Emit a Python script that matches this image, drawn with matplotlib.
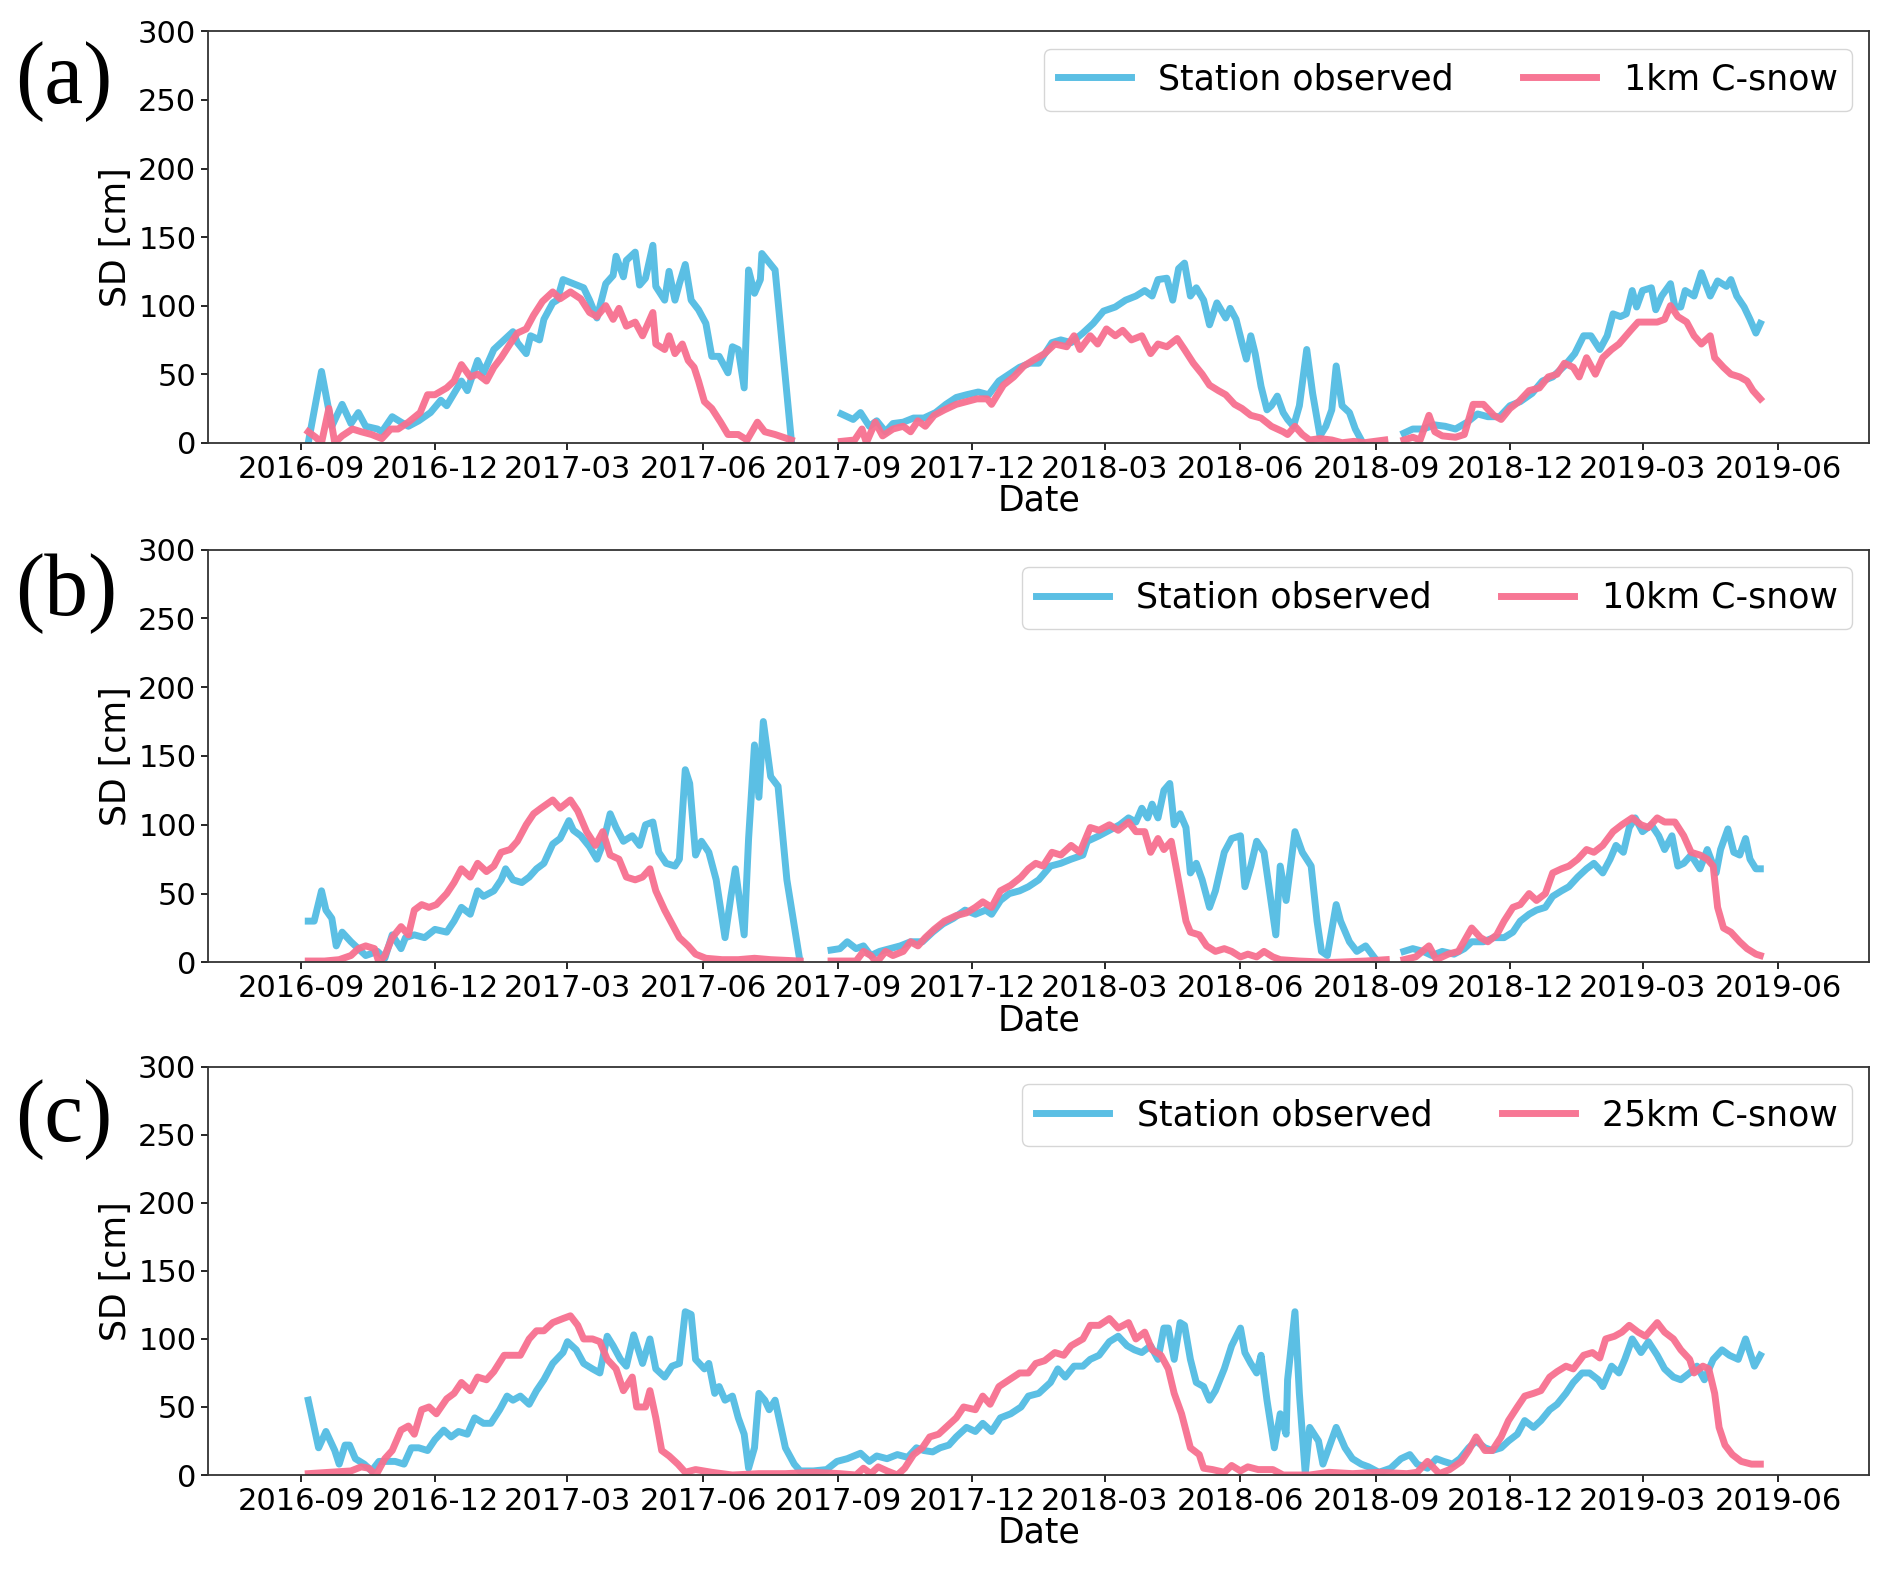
import numpy as np
import pandas as pd
import matplotlib
matplotlib.use("Agg")
import matplotlib.pyplot as plt
import matplotlib.dates as mdates

nan = np.nan
base = pd.Timestamp("2016-09-01")  # days below are counted from this date

# ---- panel (a): station vs 1km C-snow ----
a_obs_day = [5, 14, 21, 28, 34, 39, 44, 52, 55, 62, 68, 73, 80, 88, 95, 99, 109, 113, 120, 124,
             131, 138, 144, 147, 153, 156, 162, 165, 171, 174, 178, 185, 192, 196, 201, 207, 212, 214, 219, 221,
             227, 230, 234, 239, 241, 247, 250, 254, 257, 261, 265, 270, 275, 279, 284, 290, 293, 297, 301, 304,
             308, 312, 313, 319, 322, 333, 350,
             367, 375, 380, 386, 391, 397, 402, 409, 416, 423, 431, 438, 445, 452, 460, 467, 474, 481, 488, 495,
             501, 510, 516, 523, 531, 538, 545, 553, 560, 567, 573, 578, 582, 588, 592, 596, 600, 604, 608, 613,
             617, 622, 628, 631, 635, 639, 642, 645, 648, 652, 656, 659, 663, 667, 670, 674, 678, 683, 687, 692,
             696, 700, 703, 707, 712, 716, 720, 735,
             749, 755, 762, 770, 777, 784, 792, 799, 806, 814, 821, 828, 836, 843, 850, 858, 865, 871, 876, 882,
             887, 891, 896, 900, 904, 907, 911, 917, 920, 924, 930, 933, 937, 940, 946, 951, 957, 962, 968, 971,
             975, 980, 984, 988, 991]
a_obs_sd = [0, 52, 12, 28, 14, 22, 12, 10, 8, 19, 15, 12, 16, 22, 31, 27, 45, 38, 60, 51,
            68, 75, 81, 73, 65, 78, 75, 90, 102, 104, 119, 116, 113, 104, 91, 116, 122, 136, 121, 133,
            139, 115, 120, 144, 114, 104, 125, 104, 116, 130, 104, 97, 87, 63, 63, 51, 70, 68, 40, 126,
            109, 119, 138, 130, 126, 2, nan,
            21, 17, 22, 12, 16, 8, 14, 15, 18, 18, 22, 28, 33, 35, 37, 35, 45, 50, 55, 58,
            58, 73, 75, 73, 80, 87, 96, 99, 104, 107, 111, 107, 119, 120, 104, 127, 131, 107, 113, 104,
            86, 102, 91, 98, 90, 73, 61, 78, 65, 41, 24, 27, 34, 22, 17, 12, 27, 68, 36, 5,
            12, 24, 56, 27, 22, 10, 2, nan,
            7, 10, 10, 13, 12, 10, 15, 21, 19, 19, 27, 30, 36, 45, 48, 56, 65, 78, 78, 68,
            78, 94, 92, 94, 111, 99, 111, 113, 97, 107, 116, 99, 99, 111, 107, 124, 107, 118, 114, 119,
            107, 99, 90, 80, 87]

a_mod_day = [5, 10, 14, 19, 23, 28, 35, 41, 48, 55, 61, 66, 73, 81, 86, 91, 99, 104, 109, 115,
             120, 126, 131, 136, 142, 147, 153, 158, 164, 171, 176, 183, 190, 196, 201, 207, 212, 216, 221, 227,
             232, 239, 241, 247, 250, 254, 259, 263, 267, 270, 274, 279, 285, 290, 297, 303, 310, 315, 322, 333, 350,
             367, 376, 381, 384, 390, 395, 402, 409, 414, 419, 424, 430, 437, 445, 452, 459, 466, 469, 477, 484,
             491, 497, 505, 512, 520, 525, 529, 536, 541, 547, 553, 558, 564, 571, 577, 582, 588, 595, 600, 606,
             612, 617, 623, 628, 634, 639, 645, 652, 659, 667, 670, 675, 680, 685, 692, 700, 707, 715, 722, 729,
             736, 742,
             749, 755, 760, 766, 770, 775, 784, 790, 796, 803, 810, 815, 821, 827, 834, 841, 847, 853, 858, 864,
             868, 873, 879, 884, 890, 895, 903, 908, 913, 921, 926, 930, 935, 941, 946, 951, 957, 960, 966, 971,
             977, 982, 986, 991]
a_mod_sd = [8, 4, 0, 25, 0, 5, 10, 8, 6, 3, 10, 10, 15, 22, 35, 35, 40, 45, 57, 48,
            50, 45, 55, 62, 72, 80, 83, 93, 103, 110, 105, 110, 105, 95, 92, 100, 90, 98, 85, 88,
            78, 95, 72, 68, 78, 65, 72, 60, 55, 45, 30, 25, 15, 6, 6, 2, 15, 8, 6, 2, nan,
            1, 2, 10, 0, 15, 5, 10, 12, 8, 16, 12, 20, 24, 28, 30, 32, 32, 28, 42, 48,
            56, 60, 65, 72, 70, 78, 68, 78, 72, 83, 78, 82, 75, 78, 65, 72, 70, 76, 68, 58,
            50, 42, 38, 35, 28, 25, 20, 18, 12, 8, 6, 12, 6, 2, 3, 2, 0, 1, 0, 1,
            2, nan,
            2, 4, 2, 20, 8, 5, 4, 6, 28, 28, 20, 17, 25, 30, 38, 40, 48, 50, 58, 55,
            48, 62, 50, 62, 68, 72, 82, 88, 88, 88, 90, 100, 92, 88, 78, 72, 78, 62, 55, 50,
            48, 45, 38, 32]

# ---- panel (b): station vs 10km C-snow ----
b_obs_day = [5, 9, 14, 17, 21, 24, 28, 34, 39, 44, 52, 57, 62, 68, 71, 77, 84, 91, 99, 104,
             109, 115, 120, 124, 131, 136, 139, 144, 150, 155, 160, 165, 171, 176, 182, 185, 190, 196, 201, 205,
             210, 214, 219, 225, 230, 234, 239, 243, 248, 254, 257, 261, 264, 268, 272, 277, 282, 288, 292, 295,
             301, 304, 308, 311, 314, 319, 324, 330, 339, 350,
             360, 366, 371, 377, 382, 387, 393, 400, 407, 414, 422, 429, 436, 443, 451, 458, 465, 469, 475, 481,
             488, 494, 501, 509, 516, 523, 531, 534, 542, 549, 556, 562, 567, 571, 575, 578, 582, 586, 590, 593,
             597, 601, 604, 608, 612, 617, 621, 627, 632, 638, 641, 645, 649, 654, 658, 662, 665, 669, 675, 680,
             686, 690, 693, 697, 703, 706, 712, 717, 723, 730, 740,
             749, 755, 762, 768, 775, 783, 790, 795, 803, 810, 817, 823, 828, 834, 839, 845, 850, 856, 861, 867,
             873, 878, 884, 889, 893, 898, 902, 906, 911, 917, 922, 926, 931, 935, 939, 944, 950, 955, 961, 964,
             969, 973, 977, 981, 984, 988, 991]
b_obs_sd = [30, 30, 52, 38, 32, 12, 22, 15, 10, 5, 8, 3, 20, 10, 18, 20, 18, 24, 22, 30,
            40, 35, 52, 48, 52, 60, 68, 60, 58, 62, 68, 72, 86, 90, 103, 96, 92, 84, 75, 86,
            108, 98, 88, 92, 85, 100, 102, 80, 72, 70, 75, 140, 130, 78, 88, 80, 60, 18, 48, 68,
            20, 90, 158, 120, 175, 135, 128, 60, 0, nan,
            9, 10, 15, 10, 12, 5, 8, 10, 12, 15, 15, 22, 28, 32, 38, 35, 38, 35, 45, 50,
            52, 55, 60, 70, 72, 75, 78, 88, 92, 96, 100, 105, 102, 112, 105, 115, 105, 125, 130, 100,
            108, 98, 65, 72, 60, 40, 52, 80, 90, 92, 55, 70, 88, 80, 50, 20, 70, 45, 95, 80,
            70, 30, 8, 5, 42, 30, 15, 8, 12, 2, nan,
            8, 10, 8, 5, 8, 6, 10, 15, 15, 18, 18, 22, 30, 35, 38, 40, 48, 52, 55, 62,
            68, 72, 65, 75, 85, 80, 98, 105, 95, 100, 92, 82, 92, 70, 72, 78, 68, 82, 65, 82,
            97, 80, 78, 90, 75, 68, 68]

b_mod_day = [5, 16, 26, 34, 39, 44, 50, 53, 57, 62, 68, 73, 77, 82, 87, 92, 99, 104, 109, 115,
             120, 126, 131, 136, 142, 147, 153, 158, 163, 171, 176, 183, 188, 194, 200, 205, 210, 216, 221, 227,
             232, 237, 241, 247, 252, 257, 263, 268, 275, 286, 297, 308, 319, 339, 350,
             360, 377, 382, 387, 391, 397, 402, 409, 414, 419, 424, 430, 437, 445, 452, 458, 463, 469, 475, 482,
             489, 494, 499, 504, 510, 516, 523, 529, 536, 542, 549, 555, 562, 567, 573, 577, 582, 586, 591, 595,
             601, 604, 610, 615, 621, 627, 632, 638, 643, 649, 654, 660, 665, 678, 700, 723, 737, 743,
             749, 757, 766, 771, 779, 786, 795, 801, 806, 812, 817, 823, 828, 834, 839, 845, 850, 856, 861, 867,
             873, 878, 884, 891, 897, 904, 910, 915, 921, 926, 933, 939, 944, 950, 955, 959, 962, 966, 971, 977,
             982, 988, 991]
b_mod_sd = [1, 1, 2, 5, 10, 12, 10, 0, 5, 18, 26, 20, 38, 42, 40, 42, 50, 58, 68, 62,
            72, 66, 70, 80, 82, 88, 100, 108, 112, 118, 112, 118, 110, 95, 85, 95, 78, 75, 62, 60,
            62, 68, 52, 38, 28, 18, 12, 6, 3, 2, 2, 3, 2, 1, nan,
            1, 1, 8, 5, 0, 8, 5, 8, 15, 12, 18, 24, 30, 34, 36, 40, 44, 40, 52, 56,
            62, 68, 72, 70, 80, 78, 85, 80, 98, 96, 100, 96, 102, 95, 95, 80, 90, 82, 88, 65,
            30, 22, 20, 12, 8, 10, 8, 4, 6, 4, 8, 4, 2, 1, 0, 1, 2, nan,
            2, 4, 12, 2, 6, 8, 25, 18, 15, 20, 30, 40, 42, 50, 45, 50, 65, 68, 70, 75,
            82, 80, 85, 95, 100, 105, 100, 98, 105, 102, 102, 92, 80, 78, 75, 70, 40, 25, 22, 15,
            10, 6, 5]

# ---- panel (c): station vs 25km C-snow ----
c_obs_day = [5, 8, 12, 17, 23, 26, 30, 33, 37, 43, 48, 53, 59, 64, 70, 75, 80, 86, 91, 97,
             102, 107, 113, 118, 124, 129, 135, 140, 144, 149, 155, 160, 165, 171, 178, 181, 187, 192, 198, 203,
             208, 212, 217, 221, 226, 232, 237, 241, 247, 252, 257, 261, 265, 268, 274, 277, 281, 284, 288, 293,
             297, 301, 304, 308, 311, 315, 318, 322, 326, 329, 335, 339, 348, 357, 364, 371, 380, 386, 391, 398,
             405, 412, 418, 423, 429, 434, 440, 445, 452, 458, 463, 469, 475, 482, 489, 494, 501, 509, 514, 519,
             525, 531, 536, 542, 549, 555, 561, 566, 571, 577, 582, 586, 589, 593, 597, 600, 604, 608, 613, 617,
             621, 627, 632, 638, 641, 645, 649, 652, 656, 661, 665, 669, 670, 675, 678, 682, 685, 691, 694, 698,
             703, 709, 714, 720, 725, 732, 740, 747, 753, 758, 765, 771, 776, 782, 787, 793, 798, 804, 809, 815,
             820, 826, 831, 837, 842, 848, 853, 859, 864, 870, 875, 881, 884, 890, 895, 899, 904, 910, 915, 921,
             926, 932, 937, 943, 948, 953, 959, 965, 970, 976, 981, 987, 991]
c_obs_sd = [55, 40, 20, 32, 18, 8, 22, 22, 12, 8, 3, 10, 10, 10, 8, 20, 20, 18, 26, 33,
            28, 32, 30, 42, 38, 38, 48, 58, 55, 58, 52, 62, 70, 82, 90, 98, 92, 82, 78, 75,
            102, 95, 85, 80, 103, 82, 100, 78, 72, 80, 82, 120, 118, 85, 78, 82, 60, 65, 55, 58,
            42, 30, 5, 20, 60, 55, 48, 55, 35, 20, 8, 3, 3, 4, 10, 12, 16, 10, 14, 12,
            15, 13, 20, 18, 17, 20, 22, 28, 35, 32, 38, 32, 42, 45, 50, 58, 60, 68, 78, 72,
            80, 80, 85, 88, 98, 102, 95, 92, 90, 95, 85, 108, 108, 85, 112, 110, 85, 68, 65, 55,
            62, 78, 95, 108, 90, 82, 75, 88, 55, 20, 45, 30, 70, 120, 60, 1, 35, 25, 8, 20,
            35, 20, 12, 8, 6, 2, 5, 12, 15, 8, 5, 12, 10, 8, 12, 20, 25, 20, 18, 20,
            25, 30, 40, 35, 40, 48, 52, 60, 68, 75, 75, 70, 65, 80, 75, 85, 100, 90, 98, 88,
            78, 72, 70, 75, 80, 70, 85, 92, 88, 85, 100, 80, 88]

c_mod_day = [5, 19, 34, 41, 46, 51, 57, 62, 68, 73, 77, 82, 87, 92, 99, 104, 109, 115, 120, 126,
             131, 138, 144, 149, 155, 160, 165, 171, 178, 183, 188, 192, 198, 203, 208, 214, 219, 225, 228, 234,
             237, 241, 245, 250, 256, 261, 268, 279, 293, 311, 329, 348, 366, 377, 382, 387, 392, 398, 405, 410,
             416, 422, 427, 433, 438, 445, 450, 458, 463, 468, 474, 481, 488, 494, 499, 505, 512, 518, 523, 531,
             536, 542, 549, 555, 562, 567, 573, 578, 584, 589, 593, 598, 604, 610, 613, 619, 627, 632, 638, 643,
             650, 660, 667, 685, 698, 714, 732, 751, 758, 765, 773, 780, 788, 793, 798, 804, 809, 815, 820, 826,
             831, 837, 842, 848, 853, 859, 864, 871, 877, 882, 886, 892, 897, 902, 908, 913, 921, 926, 932, 937,
             943, 946, 952, 956, 960, 963, 967, 972, 978, 985, 991]
c_mod_sd = [1, 2, 3, 6, 5, 0, 12, 18, 33, 36, 30, 48, 50, 45, 56, 60, 68, 62, 72, 70,
            76, 88, 88, 88, 100, 106, 106, 112, 115, 117, 110, 100, 100, 98, 85, 78, 62, 72, 50, 50,
            62, 42, 18, 14, 8, 2, 4, 2, 0, 1, 1, 2, 1, 0, 5, 1, 6, 3, 0, 5,
            15, 20, 28, 30, 35, 42, 50, 48, 58, 52, 65, 70, 75, 75, 82, 84, 90, 88, 95, 100,
            110, 110, 115, 108, 112, 100, 105, 92, 88, 78, 60, 45, 20, 15, 5, 4, 2, 7, 3, 6,
            4, 4, 0, 0, 2, 1, 2, 1, 2, 10, 1, 4, 10, 18, 28, 18, 18, 28, 40, 50,
            58, 60, 62, 72, 76, 80, 78, 88, 90, 86, 100, 102, 105, 110, 105, 102, 112, 105, 100, 92,
            85, 75, 80, 78, 60, 35, 22, 15, 10, 8, 8]

panels = [
    ("(a)", "1km C-snow", a_obs_day, a_obs_sd, a_mod_day, a_mod_sd),
    ("(b)", "10km C-snow", b_obs_day, b_obs_sd, b_mod_day, b_mod_sd),
    ("(c)", "25km C-snow", c_obs_day, c_obs_sd, c_mod_day, c_mod_sd),
]

blue = "#5BBFE4"
pink = "#F7708F"

fig = plt.figure(figsize=(18.92, 15.70), dpi=100)
# axes boxes [left, bottom, width, height] and panel-letter heights
boxes = [[0.110, 0.718, 0.878, 0.262],
         [0.110, 0.387, 0.878, 0.263],
         [0.110, 0.0605, 0.878, 0.260]]
letter_y = [0.948, 0.622, 0.287]

for (tag, mod_name, od, osd, md, msd), box, ly in zip(panels, boxes, letter_y):
    ax = fig.add_axes(box)
    od_dates = base + pd.to_timedelta(od, unit="D")
    md_dates = base + pd.to_timedelta(md, unit="D")
    ax.plot(od_dates, osd, color=blue, lw=5, label="Station observed")
    ax.plot(md_dates, msd, color=pink, lw=5, alpha=0.95, label=mod_name)

    ax.set_ylim(0, 300)
    ax.set_yticks(range(0, 301, 50))
    ax.set_xlim(pd.Timestamp("2016-06-30"), pd.Timestamp("2019-08-02"))
    ax.xaxis.set_major_locator(mdates.MonthLocator(bymonth=[3, 6, 9, 12]))
    ax.xaxis.set_major_formatter(mdates.DateFormatter("%Y-%m"))
    ax.tick_params(labelsize=22, length=5, width=1.2)
    for s in ax.spines.values():
        s.set_linewidth(1.3)
        s.set_color("#333333")

    ax.set_ylabel("SD [cm]", fontsize=25)
    ax.set_xlabel("Date", fontsize=25, labelpad=0)
    ax.legend(loc="upper right", ncol=2, fontsize=25, handlelength=2.1,
              columnspacing=2.0, borderaxespad=0.5)

    fig.text(0.008, ly, tag, fontsize=63, family="Liberation Serif", va="center")

fig.savefig("out.png", dpi=100)
